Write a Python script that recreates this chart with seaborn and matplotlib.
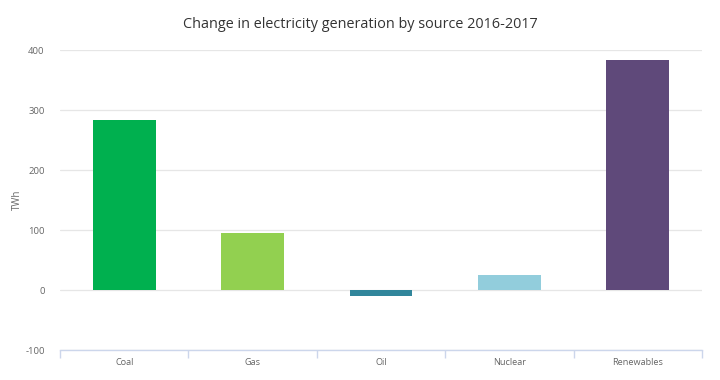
import matplotlib
matplotlib.use("Agg")
import matplotlib.pyplot as plt
from matplotlib.ticker import FixedLocator
import seaborn as sns
import pandas as pd
import numpy as np

categories = ["Coal", "Gas", "Oil", "Nuclear", "Renewables"]
values = [283, 95, -10, 25, 383]
colors = ["#00B04F", "#92D050", "#31869B", "#92CDDC", "#5F497A"]
yticks = [-100, 0, 100, 200, 300, 400]

sns.set_theme(style="white")
plt.rcParams['font.family'] = ['Open Sans', 'DejaVu Sans']

df = pd.DataFrame({"source": categories, "twh": values})

fig = plt.figure(figsize=(7.2, 3.8), dpi=100)
ax = fig.add_axes([60/720, 1-350/380, 642/720, 300/380])

sns.barplot(data=df, x="source", y="twh", hue="source", palette=colors,
            width=0.49, legend=False, ax=ax, saturation=1, zorder=3,
            edgecolor="none")

ax.set_ylim(-100, 400)
ax.set_xlim(-0.5, len(categories)-0.5)
ax.set_yticks(yticks)
ax.set_yticklabels([str(t) for t in yticks], fontsize=6.8, color="#666666")
ax.yaxis.grid(True, color="#e6e6e6", linewidth=0.9, zorder=0)
ax.tick_params(axis="y", length=0, pad=11)
ax.set_xticks(range(len(categories)))
ax.set_xticklabels(categories, fontsize=6.6, color="#666666")
ax.tick_params(axis="x", which="major", length=0, pad=6, bottom=True)
ax.xaxis.set_minor_locator(FixedLocator(np.arange(-0.5, len(categories), 1.0)))
ax.tick_params(axis="x", which="minor", length=6, color="#ccd6eb", width=1,
               direction="out", bottom=True)
for s in ["top", "right", "left"]:
    ax.spines[s].set_visible(False)
ax.spines["bottom"].set_color("#ccd6eb")
ax.spines["bottom"].set_linewidth(1)
ax.set_xlabel("")
ax.set_ylabel("TWh", fontsize=7, color="#666666")
ax.yaxis.set_label_coords((23 - 60) / 642, 0.5)

fig.text(0.5, 1-24/380, "Change in electricity generation by source 2016-2017",
         ha="center", va="center", fontsize=10.4, color="#333333")

fig.savefig("out.png", dpi=100)
